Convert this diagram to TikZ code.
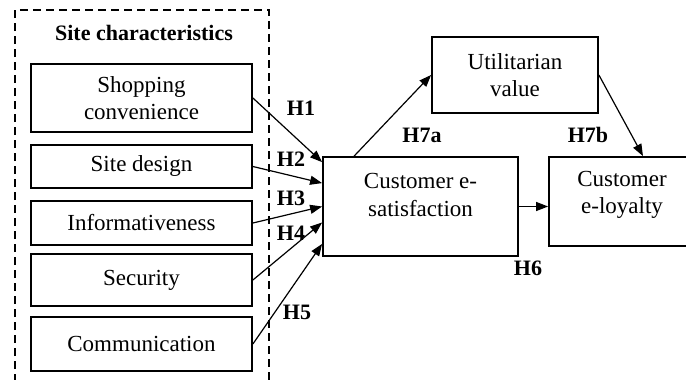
\documentclass[tikz,border=0pt]{standalone}
\usepackage{fontspec}
\setmainfont{Liberation Serif}
\usetikzlibrary{arrows.meta,calc}
\begin{document}
\begin{tikzpicture}[x=1pt,y=-1pt,
  box/.style={draw,line width=1.8pt,rectangle,inner sep=0pt,align=center,font=\fontsize{23}{27.5}\selectfont},
  txt/.style={inner sep=0pt,align=center,font=\fontsize{23}{27.5}\selectfont},
  hlab/.style={inner sep=0pt,font=\fontsize{22}{26}\selectfont\bfseries},
  arr/.style={line width=1.2pt,-{Triangle[length=12pt,width=9pt]}}]
\useasboundingbox (0,0) rectangle (686,380);
% dashed group
\draw[line width=1.6pt,dash pattern=on 8pt off 5pt] (15,395) -- (15,10) -- (269,10) -- (269,395);
\node[hlab] (title) at (144,33) {Site characteristics};
% left boxes
\node[box,minimum width=221pt,minimum height=68pt] (b1) at (141.5,98) {Shopping\\convenience};
\node[box,minimum width=221pt,minimum height=43pt] (b2) at (141.5,166.5) {Site design};
\node[box,minimum width=221pt,minimum height=44pt] (b3) at (141.5,223) {Informativeness};
\node[box,minimum width=221pt,minimum height=52pt] (b4) at (141.5,280) {Security};
\node[box,minimum width=221pt,minimum height=54pt] (b5) at (141.5,344) {Communication};
% right boxes
\node[box,minimum width=195pt,minimum height=99pt] (sat) at (420.5,206.5) {};
\node[txt] (sattxt) at (420.5,195) {Customer e-\\satisfaction};
\node[box,minimum width=166pt,minimum height=76pt] (util) at (515,75) {Utilitarian\\value};
\node[box,minimum width=146pt,minimum height=89pt] (loy) at (622,201.5) {};
\node[txt] (loytxt) at (622,195) {Customer\\e-loyalty};
% arrows
\draw[arr] (b1.east) -- ($(sat.north west)+(0,6)$);
\draw[arr] (b2.east) -- ($(sat.north west)+(0,27)$);
\draw[arr] (b3.east) -- (sat.west);
\draw[arr] (b4.east) -- ($(sat.west)+(0,16)$);
\draw[arr] (b5.east) -- ($(sat.south west)+(0,-13)$);
\draw[arr] ($(sat.north west)+(32,0)$) -- (util.west);
\draw[arr] (util.east) -- (loy.north -| 643,0);
\draw[arr] (sat.east) -- (sat.east -| loy.west);
% labels
\node[hlab] (h1) at (301,108) {H1};
\node[hlab] (h2) at (291,159) {H2};
\node[hlab] (h3) at (291,198) {H3};
\node[hlab] (h4) at (291,233) {H4};
\node[hlab] (h5) at (297,312) {H5};
\node[hlab] (h7a) at (422,135) {H7a};
\node[hlab] (h7b) at (588,135) {H7b};
\node[hlab] (h6) at (528,268) {H6};
\end{tikzpicture}
\end{document}
